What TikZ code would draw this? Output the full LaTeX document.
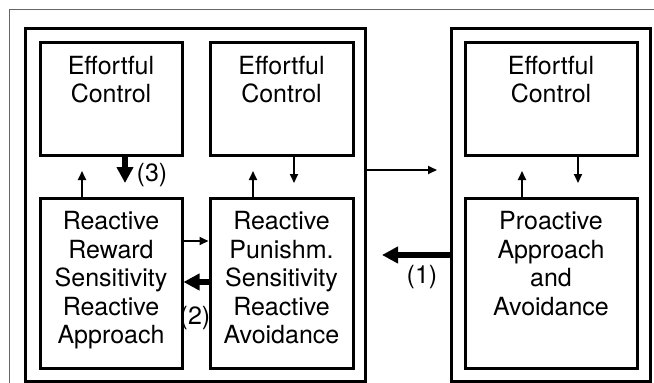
\documentclass[tikz,border=0pt]{standalone}
\usepackage{fontspec}
\setmainfont{TeX Gyre Heros}
\usetikzlibrary{arrows.meta}
\begin{document}
\begin{tikzpicture}[x=1pt,y=-1pt,
  box/.style 2 args={draw, line width=3pt, inner sep=0pt, minimum width=#1, minimum height=#2},
  txt/.style={inner sep=0pt, align=center, anchor=north, yshift=-15pt, font=\fontsize{25}{28.4}\selectfont},
  lbl/.style={inner sep=0pt, font=\fontsize{25}{28.4}\selectfont},
  thinarr/.style={line width=2pt, -{Triangle[length=9pt,width=8pt]}},
  thickarr/.style={line width=5.5pt, -{Triangle[length=16pt,width=16pt]}},
  frame/.style={draw=black!60, line width=0.8pt}]
\useasboundingbox (0,0) rectangle (654,383);
\draw[frame] (9,383) -- (9,9) -- (654,9);
% big panels
\node[box={340pt}{353pt}] (left) at (195,204.5) {};
\node[box={199pt}{353pt}] (right) at (550.5,204.5) {};
% inner boxes
\node[box={142pt}{113pt}] (ec1) at (111,98.5) {};
\node[box={143pt}{113pt}] (ec2) at (281.5,98.5) {};
\node[box={172pt}{113pt}] (ec3) at (551,98.5) {};
\node[box={142pt}{170pt}] (rew) at (111,283) {};
\node[box={143pt}{170pt}] (pun) at (281.5,283) {};
\node[box={172pt}{170pt}] (pro) at (551,283) {};
% texts
\node[txt] (ec1t) at (ec1.north) {Effortful\\Control};
\node[txt] (ec2t) at (ec2.north) {Effortful\\Control};
\node[txt] (ec3t) at (ec3.north) {Effortful\\Control};
\node[txt] (rewt) at (rew.north) {Reactive\\Reward\\Sensitivity\\Reactive\\Approach};
\node[txt] (punt) at (pun.north) {Reactive\\Punishm.\\Sensitivity\\Reactive\\Avoidance};
\node[txt] (prot) at (pro.north) {Proactive\\Approach\\and\\Avoidance};
% vertical arrows
\coordinate (t1) at (82,171);
\draw[thinarr] (rew.north -| t1) -- (t1);
\coordinate (t3) at (125,183);
\draw[thickarr] (ec1.south -| t3) -- (t3);
\coordinate (t4) at (253,171);
\draw[thinarr] (pun.north -| t4) -- (t4);
\coordinate (t5) at (294,183);
\draw[thinarr] (ec2.south -| t5) -- (t5);
\coordinate (t6) at (522,171);
\draw[thinarr] (pro.north -| t6) -- (t6);
\coordinate (t7) at (578,183);
\draw[thinarr] (ec3.south -| t7) -- (t7);
% horizontal arrows
\coordinate (t8) at (437,170);
\draw[thinarr] (left.east |- t8) -- (t8);
\coordinate (t9) at (382,255);
\draw[thickarr] (right.west |- t9) -- (t9);
\draw[thinarr] (rew.east |- 0,241) -- (pun.west |- 0,241);
\draw[thickarr] (pun.west |- 0,282) -- (rew.east |- 0,282);
% labels
\node[lbl] (l3) at (152,175) {(3)};
\node[lbl] (l2) at (195,318) {(2)};
\node[lbl] (l1) at (422,277) {(1)};
\end{tikzpicture}
\end{document}
